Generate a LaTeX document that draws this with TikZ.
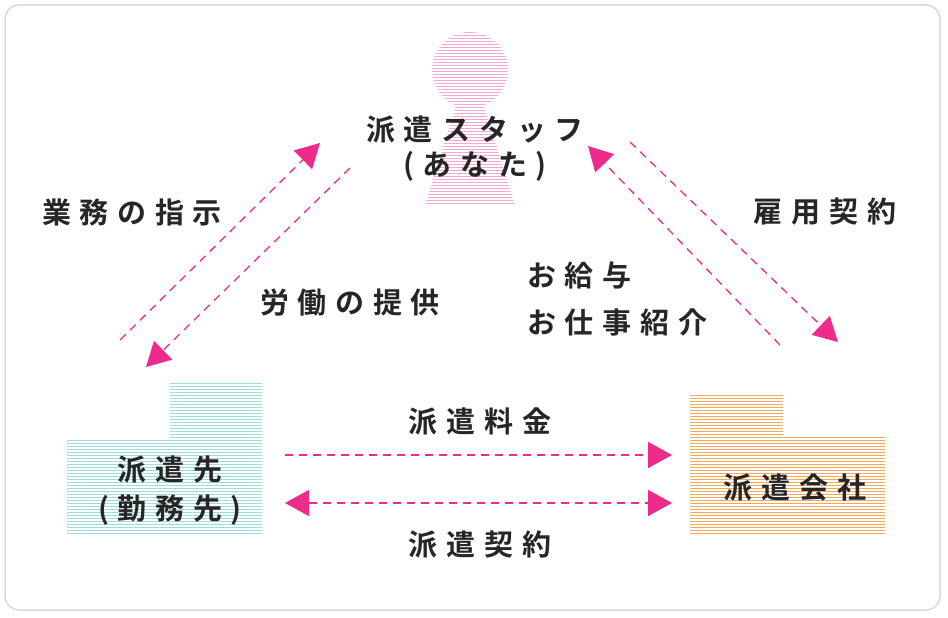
\documentclass[tikz,border=0pt]{standalone}
\usepackage{fontspec}
\newfontfamily\jp{Noto Sans CJK JP}[BoldFont={* Bold},LetterSpace=30]
\usetikzlibrary{arrows.meta,patterns}
\definecolor{mag}{HTML}{EE2A8A}
\definecolor{pk}{HTML}{F7A8D0}
\definecolor{cy}{HTML}{9FDCDC}
\definecolor{og}{HTML}{F5A85A}
\tikzset{
 lbl/.style={font=\jp\bfseries\fontsize{29}{32}\selectfont, text=black!85, inner sep=0pt},
 arr/.style={mag, line width=1.3pt, dash pattern=on 8pt off 6pt, -{Triangle[width=26pt,length=24pt]}},
 darr/.style={mag, line width=1.3pt, dash pattern=on 8pt off 6pt, {Triangle[width=26pt,length=24pt]}-{Triangle[width=26pt,length=24pt]}}
}
\begin{document}
\begin{tikzpicture}[x=1pt,y=-1pt]
\useasboundingbox (0,0) rectangle (948,618);
\draw[black!15, line width=1.5pt, rounded corners=14pt] (5,5) rectangle (940,610);
% person
\fill[pattern=horizontal lines, pattern color=pk] (470,70) circle (38);
\fill[pattern=horizontal lines, pattern color=pk] (456,106) -- (484,106) -- (515,205) -- (425,205) -- cycle;
% left building
\fill[pattern=horizontal lines, pattern color=cy] (170,383) rectangle (262,440);
\fill[pattern=horizontal lines, pattern color=cy] (67,438) rectangle (262,535);
% right building
\fill[pattern=horizontal lines, pattern color=og] (690,393) rectangle (783,437);
\fill[pattern=horizontal lines, pattern color=og] (690,435) rectangle (885,535);
% labels
\node[lbl] (staff) at (475,130) {派遣スタッフ};
\node[lbl] (anata) at (475,166) {(あなた)};
\node[lbl] (saki) at (170,470) {派遣先};
\node[lbl] (kinmu) at (170,510) {(勤務先)};
\node[lbl] (kaisha) at (795,488) {派遣会社};
\node[lbl] (shiji) at (132,212) {業務の指示};
\node[lbl] (teikyo) at (350,303) {労働の提供};
\node[lbl] (koyo) at (825,212) {雇用契約};
\node[lbl,anchor=west] (kyuyo) at (527,275) {お給与};
\node[lbl,anchor=west] (shokai) at (527,322) {お仕事紹介};
\node[lbl] (ryokin) at (480,422) {派遣料金};
\node[lbl] (keiyaku) at (480,545) {派遣契約};
% arrow coordinates
\coordinate (a1) at (120,340); \coordinate (a2) at (320,143);
\coordinate (b1) at (350,168); \coordinate (b2) at (146,367);
\coordinate (c1) at (780,345); \coordinate (c2) at (588,146);
\coordinate (d1) at (630,142); \coordinate (d2) at (838,342);
\coordinate (e1) at (285,455); \coordinate (e2) at (672,455);
\coordinate (f1) at (285,503); \coordinate (f2) at (672,503);
\draw[arr] (a1) -- (a2);
\draw[arr] (b1) -- (b2);
\draw[arr] (c1) -- (c2);
\draw[arr] (d1) -- (d2);
\draw[arr] (e1) -- (e2);
\draw[darr] (f1) -- (f2);
\end{tikzpicture}
\end{document}
